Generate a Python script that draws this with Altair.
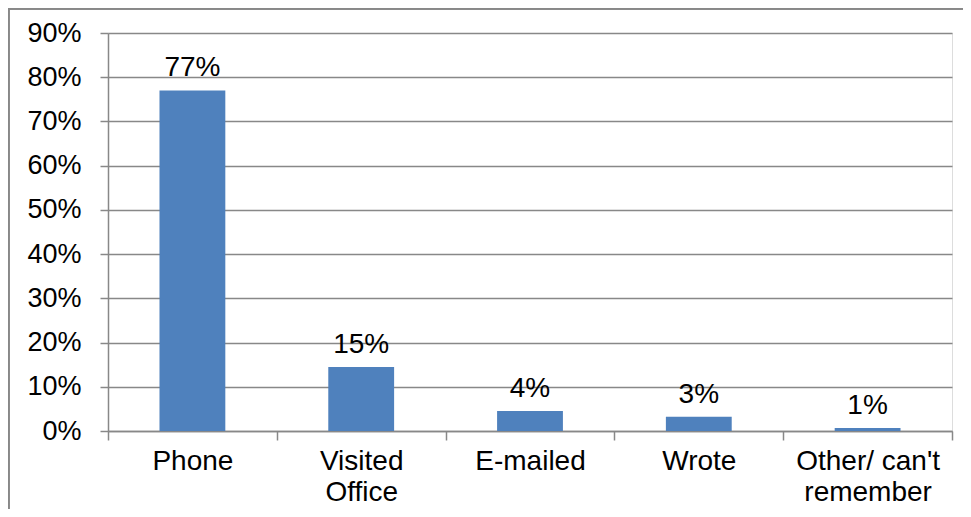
import altair as alt
import pandas as pd

categories = ["Phone", "Visited|Office", "E-mailed", "Wrote", "Other/ can't|remember"]
values = [77, 14.5, 4.5, 3.2, 0.7]
labels = ["77%", "15%", "4%", "3%", "1%"]
y_ticks = [0, 10, 20, 30, 40, 50, 60, 70, 80, 90]

df = pd.DataFrame({"cat": categories, "val": values, "lab": labels})

FONT = "Liberation Sans"
GRAY = "#888888"
W, H = 844, 398

x = alt.X("cat:N", sort=categories, title=None,
          scale=alt.Scale(paddingInner=0, paddingOuter=0),
          axis=alt.Axis(labelAngle=0, labelExpr="split(datum.label, '|')",
                        tickBand="extent", tickSize=9, tickColor=GRAY, tickWidth=1.5,
                        domainColor=GRAY, domainWidth=1.5, labelFont=FONT,
                        labelFontSize=28, labelColor="black", labelPadding=7,
                        labelLineHeight=31, labelBaseline="top", grid=False))
y = alt.Y("val:Q", title=None,
          scale=alt.Scale(domain=[0, 90], nice=False),
          axis=alt.Axis(values=y_ticks, labelExpr="datum.value + '%'",
                        grid=True, gridColor=GRAY, gridWidth=1.5,
                        tickSize=8, tickColor=GRAY, tickWidth=1.5,
                        domainColor=GRAY, domainWidth=1.5, labelFont=FONT,
                        labelFontSize=27, labelColor="black", labelPadding=19))

bars = alt.Chart(df).mark_bar(color="#4F81BD", width=alt.RelativeBandSize(0.39)).encode(x=x, y=y)
text = alt.Chart(df).mark_text(font=FONT, fontSize=28, baseline="alphabetic", dy=-14,
                               color="black").encode(
    x=alt.X("cat:N", sort=categories), y="val:Q", text="lab:N")

border_left = alt.Chart(df).mark_rule(color=GRAY, strokeWidth=1.5, clip=False).encode(
    x=alt.value(-99.3), y=alt.value(-25), y2=alt.value(H + 90))
border_top = alt.Chart(df).mark_rule(color=GRAY, strokeWidth=1.5, clip=False).encode(
    x=alt.value(-100), x2=alt.value(W + 11), y=alt.value(-24.3))

chart = alt.layer(bars, text, border_left, border_top).properties(
    width=W, height=H,
    autosize=alt.AutoSizeParams(type="none"),
    padding={"left": 100, "top": 25, "right": 11, "bottom": 78},
).configure_view(stroke=None).configure(background="white")

chart.save("out.html", embed_options={"renderer": "svg", "actions": False})
